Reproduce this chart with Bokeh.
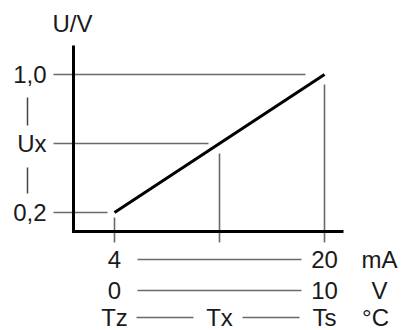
from bokeh.plotting import figure
from bokeh.models import Range1d
from bokeh.core.properties import value
from bokeh.embed import file_html
from bokeh.resources import INLINE

# ---- data ----
signal_mA = [4, 12, 20]          # 4 mA, Tx, 20 mA
output_V = [0.2, 0.6, 1.0]       # 0,2 V, Ux, 1,0 V
y_labels = ["0,2", "Ux", "1,0"]
row_mA = ["4", "20"]
row_V = ["0", "10"]
row_T = ["Tz", "Tx", "Ts"]
units = ["mA", "V", "°C"]
axis_title = "U/V"

# ---- layout helpers (picture pixel -> data) ----
PX4, PX_PER_MA = 114.0, 13.125
PY02, PX_PER_V = 212.0, 172.5


def xd(px):
    return 4 + (px - PX4) / PX_PER_MA


def yd(py):
    return 0.2 - (py - PY02) / PX_PER_V


W, H = 402, 330
p = figure(width=W, height=H, output_backend="svg", toolbar_location=None,
           x_range=Range1d(xd(0), xd(W)), y_range=Range1d(yd(H), yd(0)),
           min_border=0, border_fill_color="white", background_fill_color="white",
           outline_line_color=None)
p.axis.visible = False
p.grid.visible = False

FONT = value("Liberation Sans")
TXT = "#1a1a1a"
GUIDE = "#6a6a6a"
FS = "24px"

# horizontal guides at output values
h_end_px = [107, 208, 305]
p.segment(x0=[xd(53)] * 3, y0=output_V, x1=[xd(e) for e in h_end_px], y1=output_V,
          line_color=GUIDE, line_width=1.6)

# vertical guides at signal values
v_top_px = [217, 153, 84]
p.segment(x0=signal_mA, y0=[yd(t) for t in v_top_px], x1=signal_mA, y1=[yd(242)] * 3,
          line_color=GUIDE, line_width=1.6)

# axes
p.line(x=[xd(73), xd(73), xd(343)], y=[yd(45), yd(231), yd(231)],
       line_color="black", line_width=3, line_join="miter")

# characteristic line
p.line(x=signal_mA, y=output_V, line_color="black", line_width=3)

# '|' marks between y labels
p.segment(x0=[xd(27)] * 2, y0=[yd(97), yd(167)], x1=[xd(27)] * 2, y1=[yd(125), yd(193)],
          line_color="#444444", line_width=1.5)

# y labels
p.text(x=[xd(46)] * 3, y=output_V, text=y_labels, text_align="right",
       text_baseline="middle", text_font=FONT, text_font_size=FS, text_color=TXT)
p.text(x=[xd(52)], y=[yd(23)], text=[axis_title], text_align="left",
       text_baseline="middle", text_font=FONT, text_font_size=FS, text_color=TXT)

# bottom rows
r1, r2, r3 = 259, 290, 317
p.text(x=[signal_mA[0], signal_mA[2]], y=[yd(r1)] * 2, text=row_mA, text_align="center",
       text_baseline="middle", text_font=FONT, text_font_size=FS, text_color=TXT)
p.text(x=[signal_mA[0], signal_mA[2]], y=[yd(r2)] * 2, text=row_V, text_align="center",
       text_baseline="middle", text_font=FONT, text_font_size=FS, text_color=TXT)
p.text(x=signal_mA, y=[yd(r3)] * 3, text=row_T, text_align="center",
       text_baseline="middle", text_font=FONT, text_font_size=FS, text_color=TXT)
p.text(x=[xd(379), xd(379), xd(375)], y=[yd(r1), yd(r2), yd(r3)], text=units,
       text_align="center", text_baseline="middle", text_font=FONT,
       text_font_size=FS, text_color=TXT)

# connector lines in bottom rows
p.segment(x0=[xd(137), xd(137), xd(136), xd(242)],
          y0=[yd(r1), yd(r2), yd(r3), yd(r3)],
          x1=[xd(301), xd(301), xd(193), xd(299)],
          y1=[yd(r1), yd(r2), yd(r3), yd(r3)],
          line_color=GUIDE, line_width=1.6)

open("out.html", "w").write(file_html(p, INLINE))
